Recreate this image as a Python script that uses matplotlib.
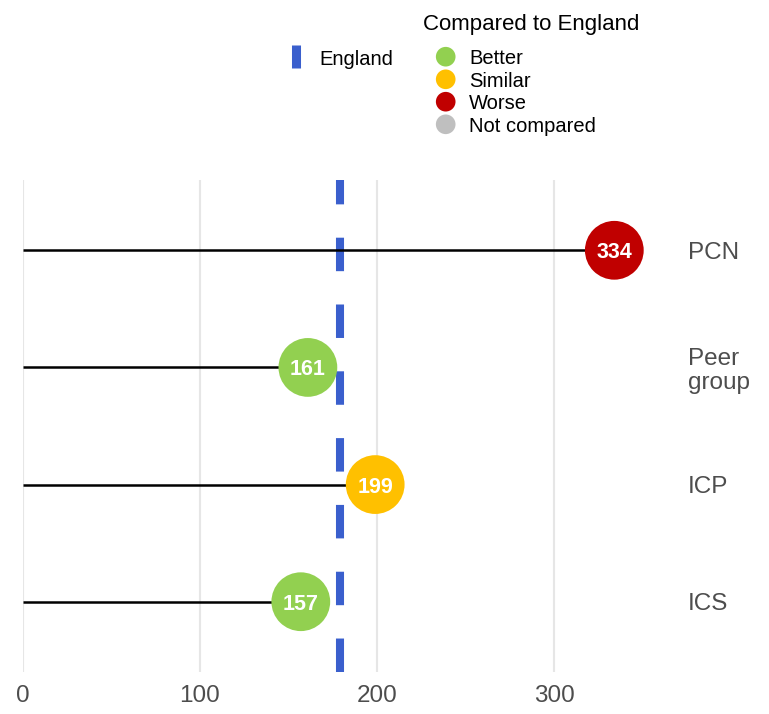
import matplotlib
matplotlib.use("Agg")
import matplotlib.pyplot as plt
from matplotlib.lines import Line2D

plt.rcParams['font.family'] = ['Liberation Sans', 'DejaVu Sans']

# Data
areas = ["PCN", "Peer\ngroup", "ICP", "ICS"]
values = [334, 161, 199, 157]
status = ["Worse", "Better", "Similar", "Better"]
england_value = 179
x_ticks = [0, 100, 200, 300]

status_colours = {
    "Better": "#92D050",
    "Similar": "#FFC000",
    "Worse": "#C00000",
    "Not compared": "#BFBFBF",
}
england_colour = "#3A5FCD"
text_grey = "#4D4D4D"

W, H = 769, 714
fig = plt.figure(figsize=(W / 100, H / 100), dpi=100)

# main panel in pixel geometry
left_px, right_px, top_px, bottom_px = 22.7, 660, 180, 672
ax = fig.add_axes([left_px / W, 1 - bottom_px / H,
                   (right_px - left_px) / W, (bottom_px - top_px) / H])

x_per_px = 100 / 177.13
ax.set_xlim(0, (right_px - left_px) * x_per_px)
ax.set_ylim(len(areas) - 0.4, -0.6)

ypos = list(range(len(areas)))

# vertical grid
for t in x_ticks:
    ax.axvline(t, color="#E6E6E6", lw=1.5, zorder=0)

# England reference line (dashes measured in points, scaled by width)
lw_eng = 5.8
on_pt, off_pt = 24.1, 24.0
ax.axvline(england_value, color=england_colour, lw=lw_eng,
           linestyle=(0, (on_pt / lw_eng, off_pt / lw_eng)),
           dash_capstyle="butt", zorder=1)

# lollipop stems
for y, v in zip(ypos, values):
    ax.plot([0, v], [y, y], color="black", lw=1.8, solid_capstyle="butt", zorder=2)

# lollipop heads
ax.scatter(values, ypos, s=1790, c=[status_colours[s] for s in status],
           edgecolors="none", zorder=3)
for y, v in zip(ypos, values):
    ax.text(v, y, str(v), color="white", fontsize=15.5, fontweight="bold",
            ha="center", va="center_baseline", zorder=4)

# axes styling
for sp in ax.spines.values():
    sp.set_visible(False)
ax.set_xticks(x_ticks)
ax.set_xticklabels([str(t) for t in x_ticks])
ax.tick_params(axis="x", length=0, pad=9.5, labelsize=17.5, labelcolor=text_grey)
ax.set_yticks(ypos)
ax.set_yticklabels(areas, linespacing=1.1)
ax.yaxis.tick_right()
ax.tick_params(axis="y", length=0, pad=20, labelsize=17.5, labelcolor=text_grey)
for lab in ax.get_yticklabels():
    lab.set_horizontalalignment("left")
    lab.set_verticalalignment("center_baseline")

# legend drawn in a full-figure overlay in pixel units
lg = fig.add_axes([0, 0, 1, 1])
lg.set_xlim(0, W)
lg.set_ylim(H, 0)
lg.axis("off")

lg.add_line(Line2D([295.5, 295.5], [45, 67.7], color=england_colour, lw=6.5,
                   solid_capstyle="butt"))
lg.text(319, 57.5, "England", fontsize=14.5, color="black", ha="left", va="center_baseline")

lg.text(423, 22, "Compared to England", fontsize=16, color="black",
        ha="left", va="center_baseline")
leg_labels = ["Better", "Similar", "Worse", "Not compared"]
leg_y = [56.7, 79.3, 101.7, 124.3]
lg.scatter([445.7] * len(leg_labels), leg_y, s=200,
           c=[status_colours[k] for k in leg_labels], edgecolors="none")
for lab, y in zip(leg_labels, leg_y):
    lg.text(469.3, y, lab, fontsize=14.5, color="black", ha="left", va="center_baseline")

fig.savefig("out.png", dpi=100)
